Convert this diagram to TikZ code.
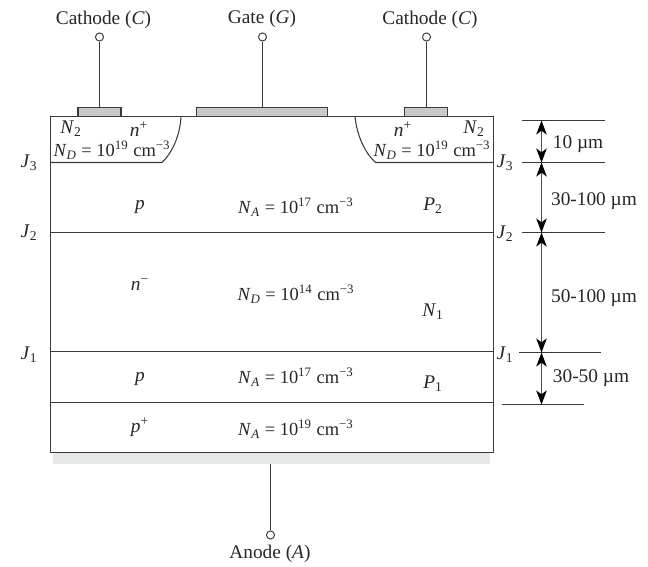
\documentclass[tikz,border=0pt]{standalone}
\usepackage{fontspec}
\setmainfont{Liberation Serif}
\usetikzlibrary{arrows.meta}
\definecolor{inkline}{HTML}{3A3A3C}
\definecolor{contactfill}{HTML}{C9CACB}
\definecolor{shadowfill}{HTML}{E6E7E7}
\newcommand{\conc}[3]{\textit{N}\textsubscript{\textit{#1}} = 10\textsuperscript{#2} cm\textsuperscript{−#3}}
\newcommand{\subl}[2]{\textit{#1}\textsubscript{#2}}
\tikzset{
    txt/.style={inner sep=0pt, text=black!85, font=\fontsize{11}{12}\selectfont},
    conctxt/.style={txt, font=\fontsize{10.5}{12}\selectfont},
    terminal/.style={circle, draw=inkline, fill=white, line width=0.55pt, minimum size=4.6pt, inner sep=0pt},
    contact/.style={rectangle, draw=inkline, fill=contactfill, line width=0.6pt, inner sep=0pt, minimum height=5.2pt},
    wire/.style={line width=0.6pt, draw=inkline},
    dim/.style={line width=0.6pt, draw=inkline!90, {Stealth[length=8pt,width=6pt,inset=2.2pt,black]}-{Stealth[length=8pt,width=6pt,inset=2.2pt,black]}}
}
\begin{document}
\begin{tikzpicture}[x=0.02cm,y=-0.02cm]
            \useasboundingbox (0,0) rectangle (648,567);

            \coordinate (TL) at (50.5,116.5);
            \coordinate (TR) at (493.5,116.5);
            \coordinate (BL) at (50.5,452.5);
            \coordinate (BR) at (493.5,452.5);
            \coordinate (LJ3) at (50.5,162.5);
            \coordinate (RJ3) at (493.5,162.5);
            \coordinate (LJ2) at (50.5,232.5);
            \coordinate (RJ2) at (493.5,232.5);
            \coordinate (LJ1) at (50.5,351.5);
            \coordinate (RJ1) at (493.5,351.5);
            \coordinate (LP) at (50.5,402.5);
            \coordinate (RP) at (493.5,402.5);

            % shadow
            \fill[shadowfill] (53,453) rectangle (490,464);

            % body
            \draw[wire] (TL) -- (TR) -- (BR) -- (BL) -- cycle;
            \draw[wire] (LJ2) -- (RJ2);
            \draw[wire] (LJ1) -- (RJ1);
            \draw[wire] (LP) -- (RP);

            % n+ wells
            \draw[wire] (LJ3) -- (162,162.5) .. controls (172,153) and (180,136) .. (181,116.5);
            \draw[wire] (RJ3) -- (375.5,162.5) .. controls (365,153) and (357,136) .. (355,116.5);

            % contacts
            \node[contact, minimum width=24.5pt] (cathodeL) at (99.5,112) {};
            \node[contact, minimum width=75pt] (gate) at (262,112) {};
            \node[contact, minimum width=24.5pt] (cathodeR) at (426.2,112) {};

            % terminals
            \node[terminal] (termL) at (99.5,37) {};
            \node[terminal] (termG) at (262.5,37) {};
            \node[terminal] (termR) at (426.5,37) {};
            \node[terminal] (termA) at (270.5,535) {};
            \coordinate (anodeTop) at (270.5,464);
            \draw[wire] (termL) -- (termL |- cathodeL.north);
            \draw[wire] (termG) -- (termG |- gate.north);
            \draw[wire] (termR) -- (termR |- cathodeR.north);
            \draw[wire] (anodeTop) -- (termA);

            \node[txt] (lblL) at (103.5,20) {Cathode (\textit{C})};
            \node[txt] (lblG) at (262,19) {Gate (\textit{G})};
            \node[txt] (lblR) at (430,20) {Cathode (\textit{C})};
            \node[txt] (lblA) at (270,554) {Anode (\textit{A})};

            % dimension lines
            \coordinate (D1a) at (522,120.5); \coordinate (D1b) at (604.5,120.5);
            \coordinate (D2a) at (522,162.5); \coordinate (D2b) at (604.5,162.5);
            \coordinate (D3a) at (522,232.5); \coordinate (D3b) at (604.5,232.5);
            \coordinate (D4a) at (519,352.5); \coordinate (D4b) at (601,352.5);
            \coordinate (D5a) at (502,404.5); \coordinate (D5b) at (584,404.5);
            \draw[wire] (D1a) -- (D1b);
            \draw[wire] (D2a) -- (D2b);
            \draw[wire] (D3a) -- (D3b);
            \draw[wire] (D4a) -- (D4b);
            \draw[wire] (D5a) -- (D5b);

            \coordinate (A1) at (541.5,120.5);
            \coordinate (A2) at (541.5,162.5);
            \coordinate (A3) at (541.5,232.5);
            \coordinate (A4) at (541.5,352.5);
            \coordinate (A5) at (541.5,404.5);
            \draw[dim] (A1) -- (A2);
            \draw[dim] (A2) -- (A3);
            \draw[dim] (A3) -- (A4);
            \draw[dim] (A4) -- (A5);

            \node[txt] (w1) at (578,144) {10 µm};
            \node[txt] (w2) at (594,201) {30-100 µm};
            \node[txt] (w3) at (594,298) {50-100 µm};
            \node[txt] (w4) at (591,378) {30-50 µm};

            % junctions
            \node[txt] (J3l) at (29,163) {\subl{J}{3}};
            \node[txt] (J2l) at (29,233) {\subl{J}{2}};
            \node[txt] (J1l) at (29,355) {\subl{J}{1}};
            \node[txt] (J3r) at (505,163) {\subl{J}{3}};
            \node[txt] (J2r) at (505,234) {\subl{J}{2}};
            \node[txt] (J1r) at (505,355) {\subl{J}{1}};

            % regions
            \node[txt] (N2l) at (71,129) {\subl{N}{2}};
            \node[txt] (npl) at (139,129) {\textit{n}\textsuperscript{+}};
            \node[conctxt] (NDl) at (112,150) {\conc{D}{19}{3}};
            \node[txt] (npr) at (403,129) {\textit{n}\textsuperscript{+}};
            \node[txt] (N2r) at (474,129) {\subl{N}{2}};
            \node[conctxt] (NDr) at (432,150) {\conc{D}{19}{3}};

            \node[txt] (pa) at (140,207) {\textit{p}};
            \node[conctxt] (NAa) at (296,207) {\conc{A}{17}{3}};
            \node[txt] (P2) at (433,206) {\subl{P}{2}};

            \node[txt] (nm) at (140,285) {\textit{n}\textsuperscript{−}};
            \node[conctxt] (NDm) at (296,294) {\conc{D}{14}{3}};
            \node[txt] (N1) at (433,312) {\subl{N}{1}};

            \node[txt] (pb) at (140,379) {\textit{p}};
            \node[conctxt] (NAb) at (296,377) {\conc{A}{17}{3}};
            \node[txt] (P1) at (433,384) {\subl{P}{1}};

            \node[txt] (pp) at (140,427) {\textit{p}\textsuperscript{+}};
            \node[conctxt] (NAc) at (296,429) {\conc{A}{19}{3}};
        \end{tikzpicture}
\end{document}
